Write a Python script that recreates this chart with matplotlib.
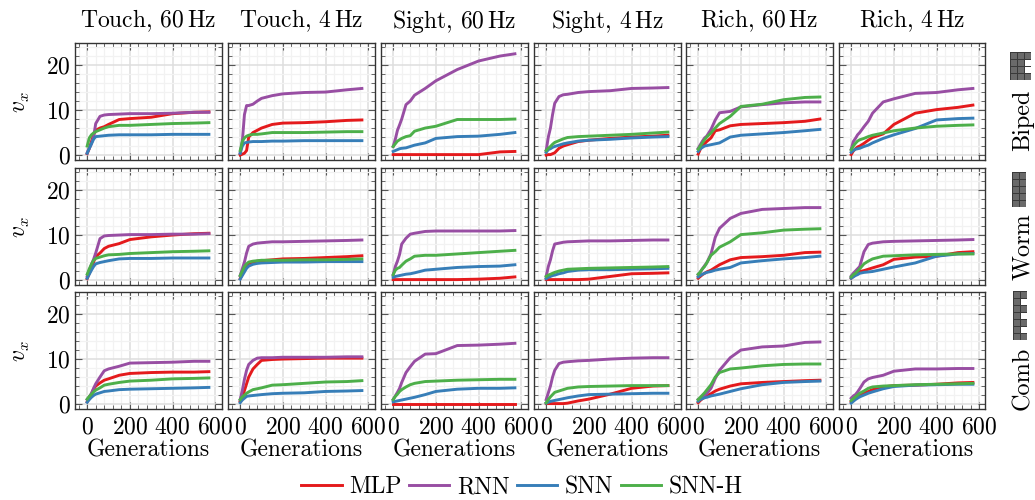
import matplotlib
matplotlib.use("Agg")
import matplotlib.pyplot as plt
import numpy as np
from matplotlib.ticker import MultipleLocator

plt.rcParams["font.family"] = ["cmr10", "DejaVu Sans"]
plt.rcParams["mathtext.fontset"] = "cm"
plt.rcParams["axes.formatter.use_mathtext"] = True
plt.rcParams["axes.unicode_minus"] = False
plt.rcParams["font.size"] = 17
plt.rcParams["xtick.direction"] = "in"
plt.rcParams["ytick.direction"] = "in"

titles = ["Touch, 60$\\,$Hz", "Touch, 4$\\,$Hz", "Sight, 60$\\,$Hz",
          "Sight, 4$\\,$Hz", "Rich, 60$\\,$Hz", "Rich, 4$\\,$Hz"]
robots = ["Biped", "Worm", "Comb"]
names = ["MLP", "RNN", "SNN", "SNN-H"]
colors = ["#e41a1c", "#984ea3", "#377eb8", "#4daf4a"]

gens = [0, 10, 20, 30, 40, 60, 80, 100, 150, 200, 300, 400, 500, 570]

# rows: biped, worm, comb / columns: same order as titles
mlp = [
    [[0.3, 1.5, 3, 4.5, 5.5, 6, 6.3, 6.8, 7.9, 8.1, 8.4, 9.2, 9.5, 9.6],
     [0, 0.2, 0.4, 1, 4, 5, 5.5, 6, 6.8, 7.1, 7.2, 7.4, 7.7, 7.8],
     [0.1, 0.1, 0.1, 0.1, 0.1, 0.1, 0.1, 0.1, 0.1, 0.1, 0.1, 0.1, 0.7, 0.8],
     [0, 0.1, 0.1, 0.3, 0.5, 1.5, 2, 2.3, 3, 3.3, 3.7, 4, 4.2, 4.4],
     [0.2, 1.3, 2, 2.5, 3, 3.8, 5.4, 5.6, 6.5, 6.8, 7, 7.2, 7.5, 8],
     [0.1, 0.9, 1.4, 1.8, 2, 2.6, 3.3, 3.9, 4.7, 6.8, 9.3, 10.1, 10.6, 11.1]],
    [[0.3, 1.5, 2.7, 4, 5.2, 6, 7, 7.5, 8.1, 9, 9.6, 10, 10.3, 10.4],
     [0.3, 1.3, 2.3, 3.2, 3.7, 4, 4.2, 4.3, 4.5, 4.7, 4.8, 5, 5.2, 5.4],
     [0.1, 0.1, 0.1, 0.1, 0.1, 0.1, 0.1, 0.1, 0.1, 0.1, 0.1, 0.2, 0.4, 0.7],
     [0.1, 0.1, 0.1, 0.1, 0.1, 0.1, 0.1, 0.1, 0.1, 0.2, 0.8, 1.4, 1.5, 1.6],
     [0.4, 0.8, 1.2, 1.5, 1.8, 2.2, 2.8, 3.4, 4.5, 5, 5.2, 5.5, 6.1, 6.2],
     [0.4, 0.8, 1.2, 1.6, 1.9, 2.1, 2.4, 2.7, 3.4, 4.6, 5.1, 5.3, 6.1, 6.3]],
    [[0.5, 1.5, 2.2, 3.3, 4, 4.7, 5.3, 5.6, 6.4, 6.8, 7, 7.1, 7.1, 7.2],
     [0.6, 1.5, 3, 4.5, 6, 7.8, 8.8, 9.7, 9.9, 10, 10.1, 10.2, 10.2, 10.2],
     [0.1, 0.1, 0.1, 0.1, 0.1, 0.1, 0.1, 0.1, 0.1, 0.1, 0.1, 0.1, 0.1, 0.1],
     [0.1, 0.1, 0.1, 0.1, 0.1, 0.1, 0.1, 0.2, 0.7, 1.1, 2.2, 3.5, 4, 4.1],
     [0.3, 0.8, 1.2, 1.5, 1.8, 2.3, 2.9, 3.3, 4, 4.5, 4.8, 5, 5.2, 5.3],
     [0.5, 1, 1.3, 1.6, 1.9, 2.4, 2.8, 3.2, 3.8, 4.1, 4.2, 4.4, 4.7, 4.8]],
]
rnn = [
    [[0.5, 1.5, 2.5, 4, 7, 8.6, 8.9, 9, 9.1, 9.2, 9.2, 9.3, 9.5, 9.5],
     [0.5, 3, 9, 11, 11, 11.3, 12, 12.6, 13.2, 13.6, 13.9, 14, 14.5, 14.8],
     [1.9, 3.5, 5.5, 6.7, 8, 11.2, 12, 13.3, 14.8, 16.5, 19, 20.9, 22, 22.5],
     [1, 4, 6, 9, 11.5, 13, 13.4, 13.5, 13.9, 14.1, 14.3, 14.8, 14.9, 15],
     [1.5, 2.3, 3.1, 3.8, 4.2, 5.7, 7.8, 9.4, 9.7, 10.7, 11.2, 11.6, 11.8, 11.8],
     [1.3, 3, 3.7, 4.5, 5, 6.3, 7.5, 9.3, 11.8, 12.5, 13.7, 13.9, 14.5, 14.8]],
    [[0.8, 2, 3.5, 4.6, 6, 9.2, 9.8, 9.9, 10, 10.1, 10.1, 10.2, 10.2, 10.3],
     [1, 2.5, 4, 6, 7.5, 8, 8.2, 8.3, 8.5, 8.5, 8.6, 8.7, 8.8, 8.9],
     [1.2, 3, 4.2, 5.7, 8, 9.3, 10.2, 10.4, 10.8, 10.9, 10.9, 10.9, 10.9, 11],
     [0.8, 3, 4.5, 6.5, 8, 8.2, 8.4, 8.5, 8.6, 8.7, 8.7, 8.8, 8.9, 8.9],
     [1.2, 1.8, 2.5, 3.2, 3.8, 5.8, 9.5, 11.5, 13.7, 14.8, 15.7, 15.9, 16.1, 16.1],
     [0.9, 1.5, 2, 2.5, 3, 6.3, 7.9, 8.2, 8.5, 8.6, 8.7, 8.8, 8.9, 9]],
    [[1, 1.6, 2.4, 3.5, 4.5, 6, 7.4, 7.8, 8.4, 9.1, 9.2, 9.3, 9.5, 9.5],
     [1, 3, 5.5, 7.5, 8.8, 9.7, 10.2, 10.3, 10.3, 10.4, 10.4, 10.4, 10.5, 10.5],
     [1, 1.8, 2.6, 3.5, 4.8, 7, 8.3, 9.5, 11.1, 11.2, 13, 13.1, 13.3, 13.5],
     [1, 2.5, 4, 6, 7.5, 9, 9.3, 9.4, 9.6, 9.7, 10, 10.2, 10.3, 10.3],
     [1, 1.3, 1.7, 2, 2.3, 3.5, 5.7, 7.5, 10.3, 12, 12.7, 12.9, 13.7, 13.8],
     [1.3, 1.8, 2.1, 2.7, 3.4, 4.9, 5.6, 5.9, 6.4, 7.3, 7.8, 7.8, 7.9, 7.9]],
]
snn = [
    [[0.4, 1.5, 2.5, 3.5, 4.1, 4.2, 4.3, 4.4, 4.5, 4.5, 4.5, 4.6, 4.6, 4.6],
     [0.4, 2, 2.7, 2.8, 2.9, 3, 3, 3, 3.1, 3.1, 3.2, 3.2, 3.2, 3.2],
     [0.8, 1, 1.2, 1.4, 1.5, 1.6, 1.9, 2.2, 2.7, 3.7, 4.1, 4.2, 4.6, 5],
     [0.6, 1.2, 1.4, 1.7, 1.9, 2.2, 2.5, 2.7, 3.1, 3.3, 3.5, 3.8, 4, 4.1],
     [0.8, 1.4, 1.7, 2, 2.1, 2.3, 2.5, 2.7, 4, 4.4, 4.7, 5, 5.4, 5.7],
     [0.6, 1, 1.3, 1.4, 1.5, 1.9, 2.2, 2.7, 3.7, 4.5, 5.9, 7.8, 8.1, 8.2]],
    [[0.4, 1.3, 2.2, 3, 3.6, 3.9, 4.1, 4.3, 4.7, 4.8, 4.8, 4.9, 4.9, 4.9],
     [0.2, 1, 1.8, 2.6, 3.1, 3.5, 3.7, 3.8, 3.9, 4, 4, 4.1, 4.1, 4.1],
     [0.6, 0.8, 0.9, 1, 1.1, 1.3, 1.4, 1.6, 2.2, 2.4, 2.8, 3, 3.1, 3.4],
     [0.3, 0.6, 0.8, 1, 1.1, 1.4, 1.6, 1.9, 2.2, 2.3, 2.3, 2.4, 2.5, 2.6],
     [0.7, 1, 1.3, 1.5, 1.7, 1.9, 2.2, 2.4, 2.8, 3.8, 4.3, 4.7, 5, 5.3],
     [0.4, 0.7, 1, 1.2, 1.5, 1.7, 1.8, 1.9, 2.4, 2.9, 3.8, 5.3, 5.8, 5.9]],
    [[0.4, 1, 1.5, 1.9, 2.2, 2.5, 2.8, 2.9, 3.2, 3.3, 3.4, 3.5, 3.6, 3.7],
     [0.3, 0.9, 1.3, 1.7, 1.8, 1.9, 2, 2.1, 2.3, 2.4, 2.5, 2.8, 2.9, 3],
     [0.5, 0.6, 0.7, 0.8, 0.9, 1.1, 1.3, 1.5, 2.1, 2.8, 3.3, 3.5, 3.5, 3.6],
     [0.2, 0.4, 0.6, 0.7, 0.8, 1, 1.2, 1.4, 1.8, 2.1, 2.2, 2.3, 2.4, 2.4],
     [0.6, 1, 1.2, 1.4, 1.5, 1.8, 2, 2.2, 2.8, 3.4, 4.3, 4.8, 5, 5.1],
     [0.2, 0.6, 1, 1.3, 1.6, 2, 2.4, 2.7, 3.4, 3.9, 4.2, 4.3, 4.4, 4.4]],
]
snn_h = [
    [[2, 3.8, 4.5, 4.9, 5.2, 5.6, 6, 6.3, 6.6, 6.6, 6.8, 7, 7.1, 7.2],
     [1, 3, 3.8, 4.2, 4.4, 4.6, 4.6, 4.7, 5, 5, 5, 5.1, 5.2, 5.2],
     [1.9, 2.5, 3.1, 3.4, 3.7, 4.1, 4.3, 5.3, 6, 6.4, 7.9, 7.9, 7.9, 8],
     [1, 1.5, 1.9, 2.4, 2.8, 3.2, 3.6, 3.9, 4.1, 4.2, 4.4, 4.6, 4.9, 5.1],
     [1.3, 2, 2.7, 3.4, 4, 4.9, 6, 7, 8.6, 10.8, 11.3, 12.3, 12.8, 12.9],
     [1.2, 2, 2.6, 3.1, 3.4, 3.7, 4.1, 4.4, 4.9, 5.4, 6, 6.4, 6.6, 6.7]],
    [[1.3, 2.5, 3.5, 4.4, 4.8, 5.1, 5.4, 5.6, 5.7, 5.9, 6.1, 6.3, 6.4, 6.5],
     [1, 2, 3, 3.6, 4, 4.2, 4.3, 4.4, 4.4, 4.4, 4.5, 4.5, 4.6, 4.7],
     [1.2, 2.2, 2.6, 2.8, 3.3, 4.2, 4.7, 5.3, 5.5, 5.5, 5.8, 6.1, 6.4, 6.6],
     [0.8, 1.1, 1.3, 1.5, 1.7, 2, 2.2, 2.4, 2.5, 2.6, 2.7, 2.8, 2.9, 3],
     [1.3, 1.8, 2.5, 3, 3.8, 5.5, 6.3, 7.3, 8.5, 10.1, 10.5, 11.1, 11.3, 11.4],
     [0.7, 1.2, 1.5, 2, 2.5, 3.6, 4.2, 4.7, 5.3, 5.4, 5.6, 5.7, 5.8, 5.8]],
    [[1.1, 1.7, 2.2, 2.7, 3.1, 3.6, 4.2, 4.4, 4.8, 5.1, 5.3, 5.6, 5.7, 5.8],
     [1, 1.6, 2, 2.4, 2.7, 3.2, 3.4, 3.6, 4.2, 4.3, 4.6, 4.9, 5, 5.2],
     [1, 1.7, 2.2, 2.8, 3.2, 3.8, 4.3, 4.6, 5, 5.1, 5.3, 5.4, 5.5, 5.5],
     [0.3, 1, 1.6, 2.1, 2.6, 2.9, 3.2, 3.5, 3.8, 3.9, 4, 4.1, 4.1, 4.1],
     [1, 1.5, 2, 2.5, 3.1, 4.3, 6, 7, 7.8, 8, 8.5, 8.8, 8.9, 8.9],
     [0.8, 1.2, 1.6, 2, 2.4, 2.9, 3.5, 3.8, 4, 4.1, 4.3, 4.4, 4.5, 4.6]],
]

# robot shapes shown next to the row names
shape_biped = [[1, 1, 1], [1, 1, 0], [1, 1, 0], [1, 1, 1]]
shape_worm = [[1, 1], [1, 1], [1, 1], [1, 1], [1, 1]]
shape_comb = [[1, 1], [1, 0], [1, 1], [1, 0], [1, 1], [1, 0], [1, 1]]

W, H = 1035, 500
fig = plt.figure(figsize=(W / 100, H / 100), dpi=100)

lefts = [75, 228, 381, 534, 686, 839]
tops = [43, 168, 292]
ax_w, ax_h = 146.5, 117


def px_axes(x, y, w, h):
    return fig.add_axes([x / W, 1 - (y + h) / H, w / W, h / H])


series = [mlp, rnn, snn, snn_h]
handles = []
for r, top in enumerate(tops):
    for c, left in enumerate(lefts):
        ax = px_axes(left, top, ax_w, ax_h)
        ax.set_axisbelow(True)
        ax.grid(which="major", color="#dedede", lw=1.1)
        ax.grid(which="minor", color="#f2f2f2", lw=0.9)
        lines = []
        for s, vals in enumerate(series):
            ln, = ax.plot(gens, vals[r][c], color=colors[s], lw=2.1,
                          solid_joinstyle="round", label=names[s])
            lines.append(ln)
        handles = lines
        ax.set_xlim(-57, 629)
        ax.set_ylim(-1.1, 24.9)
        ax.xaxis.set_major_locator(MultipleLocator(200))
        ax.xaxis.set_minor_locator(MultipleLocator(40))
        ax.yaxis.set_major_locator(MultipleLocator(10))
        ax.yaxis.set_minor_locator(MultipleLocator(2))
        ax.tick_params(which="major", length=5, width=0.8, color="#555555",
                       top=True, right=True, labelsize=17, pad=3,
                       labelbottom=r == 2, labelleft=c == 0)
        ax.tick_params(axis="x", which="major", pad=5)
        ax.tick_params(which="minor", length=3, width=0.7, color="#666666",
                       top=True, right=True)
        for sp in ax.spines.values():
            sp.set_color("#333333")
            sp.set_linewidth(1.0)
        if r == 0:
            ax.set_title(titles[c], fontsize=17, pad=11)
        if r == 2:
            ax.set_xlabel("Generations", fontsize=17, labelpad=1)
        if c == 0:
            ax.set_ylabel("$v_x$", fontsize=17, labelpad=10)

fig.legend(handles, names, loc="center", bbox_to_anchor=(522 / W, 1 - 487 / H),
           ncol=4, frameon=False, fontsize=17, handlelength=1.7,
           handletextpad=0.32, columnspacing=0.32, borderpad=0)

label_y = [120, 247, 378]
for name, y in zip(robots, label_y):
    fig.text(1023 / W, 1 - y / H, name, rotation=90, ha="center", va="center",
             fontsize=17.5)

icons = [(shape_biped, 1010, 52), (shape_worm, 1012, 172), (shape_comb, 1013, 291)]
cell = 7
for shape, x, y in icons:
    arr = np.array(shape, dtype=float)
    nrow, ncol = arr.shape
    iax = px_axes(x, y, ncol * cell, nrow * cell)
    iax.pcolormesh(np.ma.masked_equal(arr, 0), cmap="gray", vmin=0, vmax=2.4,
                   edgecolors="#3a3a3a", linewidth=0.6)
    iax.set_ylim(nrow, 0)
    iax.axis("off")

fig.savefig("out.png", dpi=100)
